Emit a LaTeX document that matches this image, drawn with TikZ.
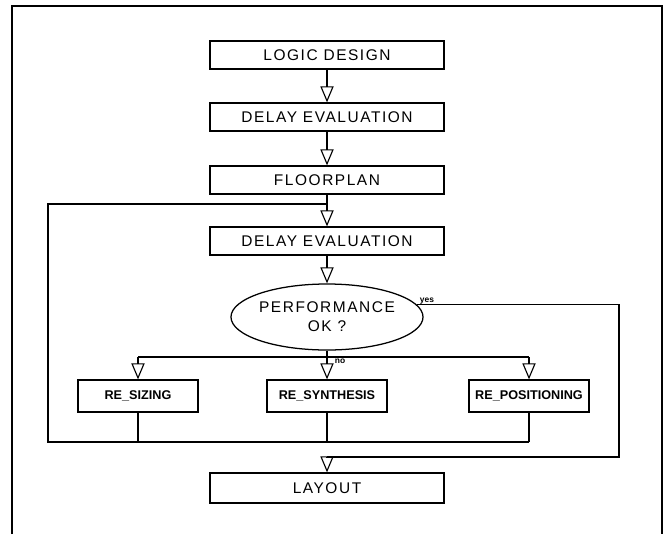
\documentclass[tikz,border=0pt]{standalone}
\usepackage{fontspec}
\setmainfont{Liberation Sans}
\newfontfamily\plotfont[LetterSpace=10]{Liberation Sans}
\usetikzlibrary{arrows.meta,shapes.geometric}

\begin{document}
\begin{tikzpicture}[x=0.025cm,y=-0.025cm,line width=0.8pt,
		stepbox/.style={draw,line width=0.9pt,minimum width=5.85cm,minimum height=0.7cm,inner sep=0pt,font=\plotfont\fontsize{11}{13}\selectfont},
		rebox/.style={draw,line width=0.9pt,minimum width=3cm,minimum height=0.8cm,inner sep=0pt,font=\bfseries\fontsize{9}{10}\selectfont},
		testbox/.style={draw,ellipse,line width=0.9pt,minimum width=4.25cm,minimum height=1.65cm,inner sep=0pt,align=center,font=\plotfont\fontsize{11}{13.5}\selectfont},
		flow/.style={-{Triangle[open,length=0.4cm,width=0.33cm]}},
		tag/.style={font=\bfseries\fontsize{6}{7}\selectfont,inner sep=1pt}]
			\useasboundingbox (0,0) rectangle (665,534);
			\draw[line width=1.2pt] (12,534) -- (12,6) -- (662,6) -- (662,534);
			\node[stepbox] (logic) at (327,55) {LOGIC DESIGN};
			\node[stepbox] (delayA) at (327,117) {DELAY EVALUATION};
			\node[stepbox] (floor) at (327,180) {FLOORPLAN};
			\node[stepbox] (delayB) at (327,241) {DELAY EVALUATION};
			\node[testbox] (perf) at (327,317) {PERFORMANCE\\OK ?};
			\node[rebox] (resize) at (138,396) {RE\_SIZING};
			\node[rebox] (resynth) at (327,396) {RE\_SYNTHESIS};
			\node[rebox] (repos) at (529,396) {RE\_POSITIONING};
			\node[stepbox,minimum height=0.75cm] (layout) at (327,488) {LAYOUT};
			\coordinate (join) at (327,204);
			\coordinate (fork) at (327,357);
			\coordinate (back) at (48,442);
			\coordinate (yesR) at (619,457);
			\draw[flow] (logic.south) -- (delayA.north);
			\draw[flow] (delayA.south) -- (floor.north);
			\draw (floor.south) -- (join);
			\draw[flow] (join) -- (delayB.north);
			\draw[flow] (delayB.south) -- (perf.north);
			\draw (perf.south) -- (fork);
			\draw (resize.north |- fork) -- (repos.north |- fork);
			\foreach \b in {resize,resynth,repos}
				{\draw[flow] (\b.north |- fork) -- (\b.north);
				\draw (\b.south) -- (\b.south |- back);}
			\draw (repos.south |- back) -- (back) |- (join);
			\draw (perf.8) -| (yesR) -- (layout.north |- yesR);
			\draw[flow] (layout.north |- yesR) -- (layout.north);
			\node[tag,anchor=south west] (yeslbl) at (418,306) {yes};
			\node[tag,anchor=north west] (nolbl) at (333,357) {no};
		\end{tikzpicture}
\end{document}
